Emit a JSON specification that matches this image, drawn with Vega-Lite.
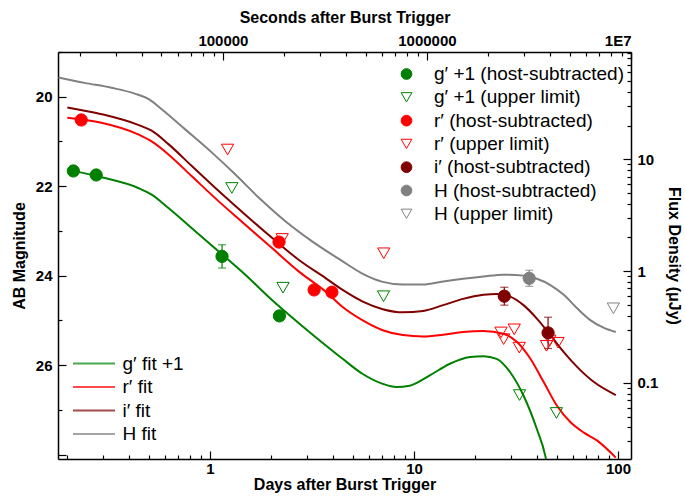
{
  "$schema": "https://vega.github.io/schema/vega-lite/v6.json",
  "width": 573,
  "height": 407,
  "autosize": {"type": "none"},
  "padding": {"left": 58, "top": 52, "right": 54, "bottom": 38},
  "background": "white",
  "config": {
    "font": "Liberation Sans",
    "view": {"stroke": null},
    "axis": {
      "labelFont": "Liberation Sans", "titleFont": "Liberation Sans",
      "labelFontWeight": "bold", "titleFontWeight": "bold",
      "labelFontSize": 15, "titleFontSize": 16,
      "labelColor": "black", "titleColor": "black",
      "domainColor": "black", "tickColor": "black",
      "domainWidth": 1.5, "tickWidth": 1.2,
      "grid": false, "labelOverlap": false, "labelBound": false
    },
    "legend": {
      "labelFont": "Liberation Sans", "labelFontSize": 19, "labelColor": "black",
      "padding": 0, "labelLimit": 400
    }
  },
  "datasets": {
    "fits": [
      {"fit": "H fit", "d": 0.181, "m": 19.57},
      {"fit": "H fit", "d": 0.243, "m": 19.69},
      {"fit": "H fit", "d": 0.329, "m": 19.80},
      {"fit": "H fit", "d": 0.428, "m": 19.93},
      {"fit": "H fit", "d": 0.499, "m": 20.05},
      {"fit": "H fit", "d": 0.580, "m": 20.28},
      {"fit": "H fit", "d": 0.756, "m": 20.73},
      {"fit": "H fit", "d": 1.023, "m": 21.25},
      {"fit": "H fit", "d": 1.333, "m": 21.74},
      {"fit": "H fit", "d": 1.738, "m": 22.26},
      {"fit": "H fit", "d": 2.35, "m": 22.79},
      {"fit": "H fit", "d": 3.18, "m": 23.24},
      {"fit": "H fit", "d": 4.40, "m": 23.66},
      {"fit": "H fit", "d": 5.61, "m": 23.96},
      {"fit": "H fit", "d": 7.03, "m": 24.14},
      {"fit": "H fit", "d": 8.83, "m": 24.20},
      {"fit": "H fit", "d": 11.07, "m": 24.20},
      {"fit": "H fit", "d": 13.9, "m": 24.13},
      {"fit": "H fit", "d": 17.4, "m": 24.07},
      {"fit": "H fit", "d": 21.9, "m": 24.02},
      {"fit": "H fit", "d": 27.4, "m": 23.98},
      {"fit": "H fit", "d": 34.4, "m": 24.00},
      {"fit": "H fit", "d": 40.0, "m": 24.07},
      {"fit": "H fit", "d": 46.6, "m": 24.21},
      {"fit": "H fit", "d": 54.2, "m": 24.43},
      {"fit": "H fit", "d": 63.0, "m": 24.73},
      {"fit": "H fit", "d": 73.4, "m": 25.00},
      {"fit": "H fit", "d": 85.3, "m": 25.17},
      {"fit": "H fit", "d": 97.5, "m": 25.26},
      {"fit": "i′ fit", "d": 0.2, "m": 20.24},
      {"fit": "i′ fit", "d": 0.294, "m": 20.39},
      {"fit": "i′ fit", "d": 0.445, "m": 20.63},
      {"fit": "i′ fit", "d": 0.518, "m": 20.76},
      {"fit": "i′ fit", "d": 0.626, "m": 21.06},
      {"fit": "i′ fit", "d": 0.815, "m": 21.55},
      {"fit": "i′ fit", "d": 1.104, "m": 22.11},
      {"fit": "i′ fit", "d": 1.49, "m": 22.64},
      {"fit": "i′ fit", "d": 2.02, "m": 23.16},
      {"fit": "i′ fit", "d": 2.73, "m": 23.65},
      {"fit": "i′ fit", "d": 3.70, "m": 24.06},
      {"fit": "i′ fit", "d": 4.47, "m": 24.32},
      {"fit": "i′ fit", "d": 5.61, "m": 24.58},
      {"fit": "i′ fit", "d": 7.03, "m": 24.75},
      {"fit": "i′ fit", "d": 8.83, "m": 24.82},
      {"fit": "i′ fit", "d": 11.07, "m": 24.79},
      {"fit": "i′ fit", "d": 13.9, "m": 24.66},
      {"fit": "i′ fit", "d": 17.4, "m": 24.52},
      {"fit": "i′ fit", "d": 21.9, "m": 24.43},
      {"fit": "i′ fit", "d": 25.4, "m": 24.41},
      {"fit": "i′ fit", "d": 29.6, "m": 24.47},
      {"fit": "i′ fit", "d": 34.4, "m": 24.66},
      {"fit": "i′ fit", "d": 40.0, "m": 24.96},
      {"fit": "i′ fit", "d": 46.6, "m": 25.33},
      {"fit": "i′ fit", "d": 54.2, "m": 25.71},
      {"fit": "i′ fit", "d": 63.0, "m": 26.04},
      {"fit": "i′ fit", "d": 76.2, "m": 26.38},
      {"fit": "i′ fit", "d": 97.5, "m": 26.67},
      {"fit": "r′ fit", "d": 0.2, "m": 20.47},
      {"fit": "r′ fit", "d": 0.294, "m": 20.58},
      {"fit": "r′ fit", "d": 0.445, "m": 20.84},
      {"fit": "r′ fit", "d": 0.518, "m": 21.00},
      {"fit": "r′ fit", "d": 0.626, "m": 21.29},
      {"fit": "r′ fit", "d": 0.815, "m": 21.78},
      {"fit": "r′ fit", "d": 1.104, "m": 22.34},
      {"fit": "r′ fit", "d": 1.49, "m": 22.86},
      {"fit": "r′ fit", "d": 2.02, "m": 23.39},
      {"fit": "r′ fit", "d": 2.73, "m": 23.91},
      {"fit": "r′ fit", "d": 3.70, "m": 24.36},
      {"fit": "r′ fit", "d": 4.47, "m": 24.70},
      {"fit": "r′ fit", "d": 5.61, "m": 25.00},
      {"fit": "r′ fit", "d": 7.03, "m": 25.22},
      {"fit": "r′ fit", "d": 8.83, "m": 25.33},
      {"fit": "r′ fit", "d": 11.07, "m": 25.36},
      {"fit": "r′ fit", "d": 13.9, "m": 25.32},
      {"fit": "r′ fit", "d": 17.4, "m": 25.26},
      {"fit": "r′ fit", "d": 21.9, "m": 25.24},
      {"fit": "r′ fit", "d": 27.4, "m": 25.30},
      {"fit": "r′ fit", "d": 31.9, "m": 25.48},
      {"fit": "r′ fit", "d": 37.2, "m": 25.86},
      {"fit": "r′ fit", "d": 43.2, "m": 26.38},
      {"fit": "r′ fit", "d": 50.2, "m": 26.91},
      {"fit": "r′ fit", "d": 58.5, "m": 27.28},
      {"fit": "r′ fit", "d": 68.0, "m": 27.51},
      {"fit": "r′ fit", "d": 79.1, "m": 27.69},
      {"fit": "r′ fit", "d": 97.5, "m": 28.07},
      {"fit": "g′ fit +1", "d": 0.2, "m": 21.63},
      {"fit": "g′ fit +1", "d": 0.294, "m": 21.80},
      {"fit": "g′ fit +1", "d": 0.445, "m": 22.04},
      {"fit": "g′ fit +1", "d": 0.518, "m": 22.19},
      {"fit": "g′ fit +1", "d": 0.626, "m": 22.49},
      {"fit": "g′ fit +1", "d": 0.815, "m": 22.94},
      {"fit": "g′ fit +1", "d": 1.104, "m": 23.46},
      {"fit": "g′ fit +1", "d": 1.49, "m": 23.98},
      {"fit": "g′ fit +1", "d": 2.02, "m": 24.55},
      {"fit": "g′ fit +1", "d": 2.84, "m": 25.13},
      {"fit": "g′ fit +1", "d": 3.56, "m": 25.50},
      {"fit": "g′ fit +1", "d": 4.47, "m": 25.86},
      {"fit": "g′ fit +1", "d": 5.61, "m": 26.20},
      {"fit": "g′ fit +1", "d": 7.03, "m": 26.42},
      {"fit": "g′ fit +1", "d": 8.18, "m": 26.49},
      {"fit": "g′ fit +1", "d": 9.52, "m": 26.46},
      {"fit": "g′ fit +1", "d": 11.95, "m": 26.23},
      {"fit": "g′ fit +1", "d": 15.0, "m": 25.97},
      {"fit": "g′ fit +1", "d": 18.8, "m": 25.82},
      {"fit": "g′ fit +1", "d": 21.9, "m": 25.80},
      {"fit": "g′ fit +1", "d": 25.4, "m": 25.86},
      {"fit": "g′ fit +1", "d": 29.6, "m": 26.16},
      {"fit": "g′ fit +1", "d": 34.4, "m": 26.68},
      {"fit": "g′ fit +1", "d": 40.0, "m": 27.43},
      {"fit": "g′ fit +1", "d": 44.0, "m": 28.03},
      {"fit": "g′ fit +1", "d": 46.0, "m": 28.5}
    ],
    "pts": [
      {"series": "g′ +1 (host-subtracted)", "d": 0.214, "m": 21.66},
      {"series": "g′ +1 (host-subtracted)", "d": 0.277, "m": 21.75},
      {"series": "g′ +1 (host-subtracted)", "d": 1.146, "m": 23.57},
      {"series": "g′ +1 (host-subtracted)", "d": 2.19, "m": 24.90},
      {"series": "g′ +1 (upper limit)", "d": 1.28, "m": 22.04},
      {"series": "g′ +1 (upper limit)", "d": 2.28, "m": 24.27},
      {"series": "g′ +1 (upper limit)", "d": 7.09, "m": 24.46},
      {"series": "g′ +1 (upper limit)", "d": 32.9, "m": 26.67},
      {"series": "g′ +1 (upper limit)", "d": 49.9, "m": 27.07},
      {"series": "r′ (host-subtracted)", "d": 0.234, "m": 20.52},
      {"series": "r′ (host-subtracted)", "d": 2.18, "m": 23.25},
      {"series": "r′ (host-subtracted)", "d": 3.24, "m": 24.32},
      {"series": "r′ (host-subtracted)", "d": 3.96, "m": 24.37},
      {"series": "r′ (upper limit)", "d": 1.22, "m": 21.18},
      {"series": "r′ (upper limit)", "d": 2.26, "m": 23.18},
      {"series": "r′ (upper limit)", "d": 7.11, "m": 23.50},
      {"series": "r′ (upper limit)", "d": 26.7, "m": 25.27},
      {"series": "r′ (upper limit)", "d": 27.5, "m": 25.42},
      {"series": "r′ (upper limit)", "d": 31.0, "m": 25.20},
      {"series": "r′ (upper limit)", "d": 32.8, "m": 25.61},
      {"series": "r′ (upper limit)", "d": 44.6, "m": 25.57},
      {"series": "r′ (upper limit)", "d": 46.3, "m": 25.45},
      {"series": "r′ (upper limit)", "d": 50.8, "m": 25.50},
      {"series": "i′ (host-subtracted)", "d": 27.7, "m": 24.46},
      {"series": "i′ (host-subtracted)", "d": 45.4, "m": 25.28},
      {"series": "H (host-subtracted)", "d": 36.7, "m": 24.06},
      {"series": "H (upper limit)", "d": 94.9, "m": 24.73}
    ],
    "errs": [
      {"fit": "g′ fit +1", "d": 0.277, "lo": 21.68, "hi": 21.82},
      {"fit": "g′ fit +1", "d": 1.146, "lo": 23.31, "hi": 23.83},
      {"fit": "g′ fit +1", "d": 2.19, "lo": 24.80, "hi": 25.00},
      {"fit": "r′ fit", "d": 2.18, "lo": 23.15, "hi": 23.35},
      {"fit": "r′ fit", "d": 3.96, "lo": 24.28, "hi": 24.46},
      {"fit": "i′ fit", "d": 27.7, "lo": 24.26, "hi": 24.66},
      {"fit": "i′ fit", "d": 45.4, "lo": 24.93, "hi": 25.63},
      {"fit": "H fit", "d": 36.7, "lo": 23.88, "hi": 24.24}
    ]
  },
  "layer": [
    {
      "layer": [
        {
          "data": {"name": "fits"},
          "mark": {"type": "line", "strokeWidth": 2, "interpolate": "monotone", "clip": true},
          "encoding": {
            "x": {
              "field": "d", "type": "quantitative", "title": "Days after Burst Trigger",
              "scale": {"type": "log", "domain": [0.18, 115.74], "nice": false},
              "axis": {
                "orient": "bottom",
                "title": "Days after Burst Trigger",
                "values": [0.2,0.3,0.4,0.5,0.6,0.7,0.8,0.9,1,2,3,4,5,6,7,8,9,10,20,30,40,50,60,70,80,90,100],
                "labelExpr": "abs(log(datum.value)/LN10 - round(log(datum.value)/LN10)) < 1e-6 ? format(datum.value, '~g') : ''",
                "tickSize": {"condition": {"test": "abs(log(datum.value)/LN10 - round(log(datum.value)/LN10)) < 1e-6", "value": -8}, "value": -4},
                "labelPadding": 10,
                "titlePadding": -4
              }
            },
            "y": {
              "field": "m", "type": "quantitative", "title": "AB Magnitude",
              "scale": {"domain": [19, 28.1], "reverse": true, "nice": false, "zero": false},
              "axis": {
                "orient": "left",
                "title": "AB Magnitude",
                "values": [19,19.25,19.5,19.75,20,20.25,20.5,20.75,21,21.25,21.5,21.75,22,22.25,22.5,22.75,23,23.25,23.5,23.75,24,24.25,24.5,24.75,25,25.25,25.5,25.75,26,26.25,26.5,26.75,27,27.25,27.5,27.75,28],
                "labelExpr": "datum.value % 2 == 0 && datum.value >= 20 && datum.value <= 26 ? format(datum.value, 'd') : ''",
                "tickSize": {"condition": {"test": "datum.value % 2 == 0", "value": -8}, "value": -4},
                "labelPadding": 14,
                "titlePadding": 8
              }
            },
            "color": {
              "field": "fit", "type": "nominal",
              "scale": {"domain": ["g′ fit +1", "r′ fit", "i′ fit", "H fit"], "range": ["#008000", "#FF0000", "#800000", "#808080"]},
              "legend": {
                "orient": "none", "legendX": 24.5, "legendY": 300, "title": null,
                "symbolType": "M-2,0L2,0", "symbolSize": 441, "symbolStrokeWidth": 2,
                "rowPadding": 1.5, "labelOffset": 17
              }
            }
          }
        },
        {
          "data": {"name": "errs"},
          "mark": {"type": "errorbar", "ticks": {"size": 8, "thickness": 1.2}, "thickness": 1.2},
          "encoding": {
            "x": {"field": "d", "type": "quantitative", "title": "Days after Burst Trigger", "scale": {"type": "log", "domain": [0.18, 115.74], "nice": false}},
            "y": {"field": "lo", "type": "quantitative", "title": "AB Magnitude", "scale": {"domain": [19, 28.1], "reverse": true, "nice": false, "zero": false}},
            "y2": {"field": "hi"},
            "color": {"field": "fit", "type": "nominal"}
          }
        },
        {
          "data": {"name": "pts"},
          "mark": {"type": "point", "size": 150, "strokeWidth": 1, "opacity": 1},
          "encoding": {
            "x": {"field": "d", "type": "quantitative", "title": "Days after Burst Trigger", "scale": {"type": "log", "domain": [0.18, 115.74], "nice": false}},
            "y": {"field": "m", "type": "quantitative", "title": "AB Magnitude", "scale": {"domain": [19, 28.1], "reverse": true, "nice": false, "zero": false}},
            "shape": {
              "field": "series", "type": "nominal",
              "scale": {
                "domain": ["g′ +1 (host-subtracted)", "g′ +1 (upper limit)", "r′ (host-subtracted)", "r′ (upper limit)", "i′ (host-subtracted)", "H (host-subtracted)", "H (upper limit)"],
                "range": ["circle", "triangle-down", "circle", "triangle-down", "circle", "circle", "triangle-down"]
              },
              "legend": {
                "orient": "none", "legendX": 339, "legendY": 12.5, "title": null,
                "symbolSize": 115, "symbolStrokeWidth": 1, "rowPadding": 3.3, "labelOffset": 18
              }
            },
            "fill": {
              "field": "series", "type": "nominal",
              "scale": {
                "domain": ["g′ +1 (host-subtracted)", "g′ +1 (upper limit)", "r′ (host-subtracted)", "r′ (upper limit)", "i′ (host-subtracted)", "H (host-subtracted)", "H (upper limit)"],
                "range": ["#008000", "transparent", "#FF0000", "transparent", "#800000", "#808080", "transparent"]
              },
              "legend": {
                "orient": "none", "legendX": 339, "legendY": 12.5, "title": null,
                "symbolSize": 115, "symbolStrokeWidth": 1, "rowPadding": 3.3, "labelOffset": 18
              }
            },
            "stroke": {
              "field": "series", "type": "nominal",
              "scale": {
                "domain": ["g′ +1 (host-subtracted)", "g′ +1 (upper limit)", "r′ (host-subtracted)", "r′ (upper limit)", "i′ (host-subtracted)", "H (host-subtracted)", "H (upper limit)"],
                "range": ["#008000", "#008000", "#FF0000", "#FF0000", "#800000", "#808080", "#808080"]
              },
              "legend": {
                "orient": "none", "legendX": 339, "legendY": 12.5, "title": null,
                "symbolSize": 115, "symbolStrokeWidth": 1, "rowPadding": 3.3, "labelOffset": 18
              }
            }
          }
        }
      ]
    },
    {
      "data": {"values": [{"s": 1000000, "f": 1}]},
      "mark": {"type": "point", "opacity": 0},
      "encoding": {
        "x": {
          "field": "s", "type": "quantitative",
          "scale": {"type": "log", "domain": [15552, 10000000], "nice": false},
          "axis": {
            "orient": "top",
            "title": "Seconds after Burst Trigger",
            "values": [20000,30000,40000,50000,60000,70000,80000,90000,100000,200000,300000,400000,500000,600000,700000,800000,900000,1000000,2000000,3000000,4000000,5000000,6000000,7000000,8000000,9000000,10000000],
            "labelExpr": "datum.value >= 9999999 ? '1E7' : (abs(log(datum.value)/LN10 - round(log(datum.value)/LN10)) < 1e-6 ? format(datum.value, 'd') : '')",
            "tickSize": {"condition": {"test": "abs(log(datum.value)/LN10 - round(log(datum.value)/LN10)) < 1e-6", "value": -8}, "value": -4},
            "labelFlush": true,
            "labelPadding": 12,
            "titlePadding": 4
          }
        },
        "y": {
          "field": "f", "type": "quantitative",
          "scale": {"type": "log", "domain": [0.020893, 91.2], "nice": false},
          "axis": {
            "orient": "right",
            "title": "Flux Density (μJy)",
            "titleAngle": 90,
            "values": [0.03,0.04,0.05,0.06,0.07,0.08,0.09,0.1,0.2,0.3,0.4,0.5,0.6,0.7,0.8,0.9,1,2,3,4,5,6,7,8,9,10,20,30,40,50,60,70,80,90],
            "labelExpr": "abs(log(datum.value)/LN10 - round(log(datum.value)/LN10)) < 1e-6 ? format(datum.value, '~g') : ''",
            "tickSize": {"condition": {"test": "abs(log(datum.value)/LN10 - round(log(datum.value)/LN10)) < 1e-6", "value": -8}, "value": -4},
            "labelPadding": 14,
            "titlePadding": 8
          }
        }
      }
    }
  ],
  "resolve": {"scale": {"x": "independent", "y": "independent"}}
}
